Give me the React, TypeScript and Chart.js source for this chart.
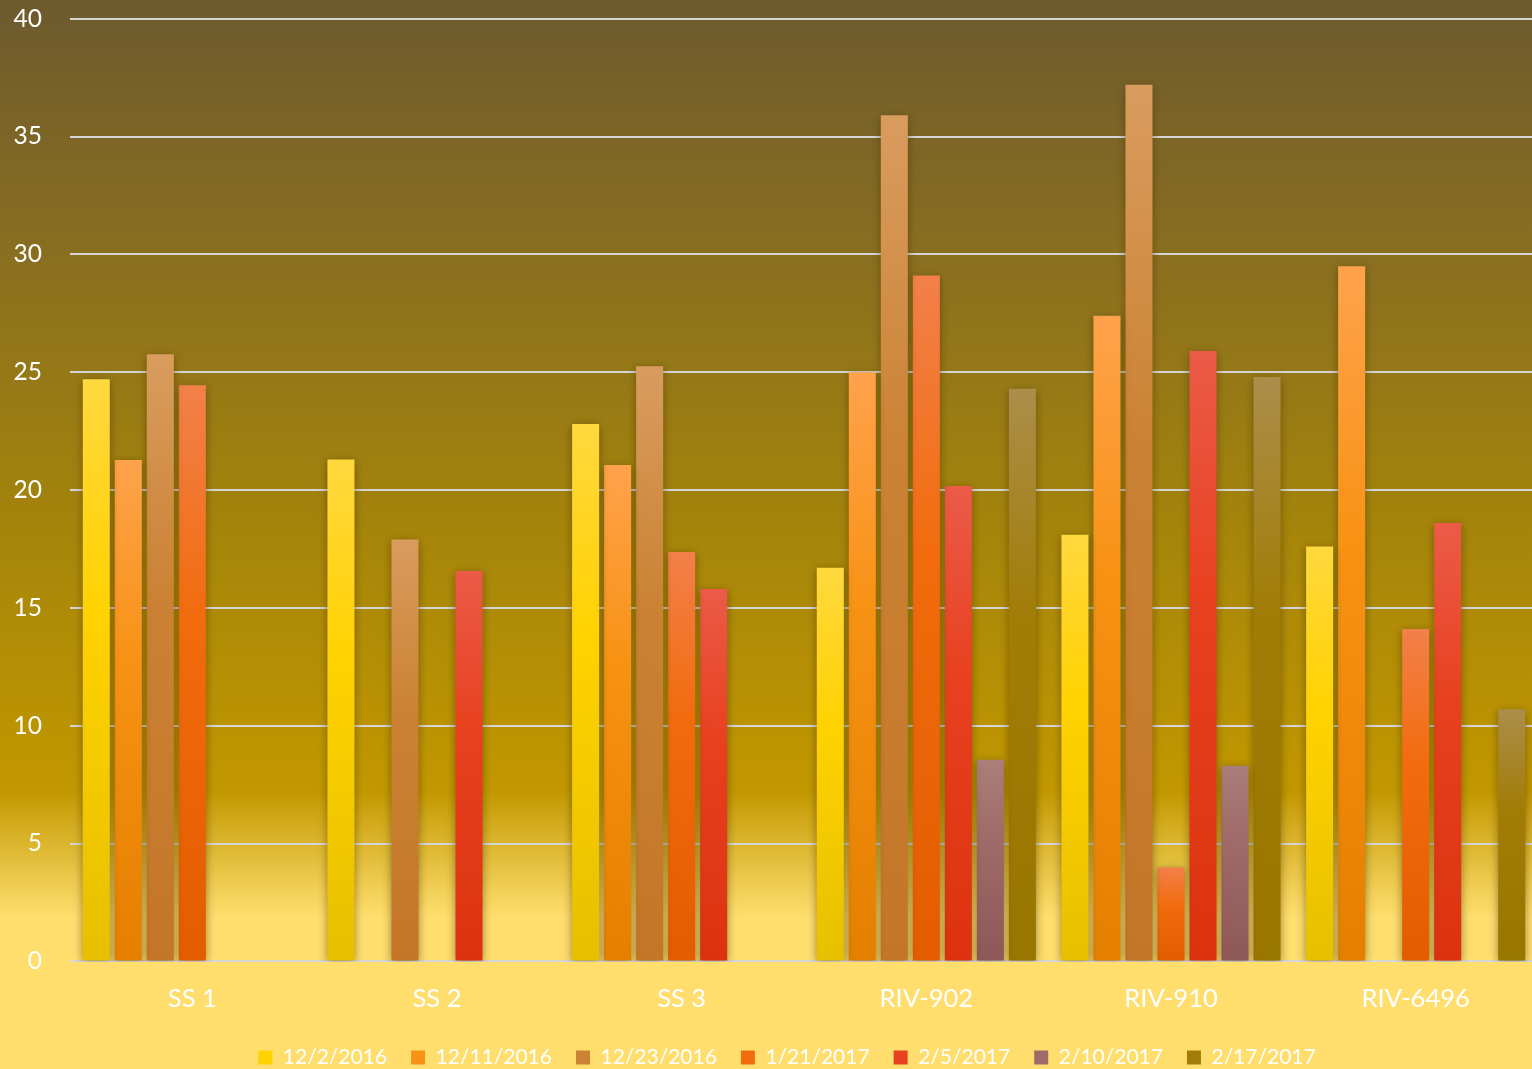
import React, { useEffect, useRef } from "react";
import { Chart, registerables } from "chart.js";

Chart.register(...registerables);

const categories = ["SS 1", "SS 2", "SS 3", "RIV-902", "RIV-910", "RIV-6496"];
const seriesNames = ["12/2/2016", "12/11/2016", "12/23/2016", "1/21/2017", "2/5/2017", "2/10/2017", "2/17/2017"];

const s1222016 = [24.7, 21.3, 22.8, 16.7, 18.1, 17.6];
const s12112016 = [21.27, null, 21.06, 25.0, 27.4, 29.5];
const s12232016 = [25.76, 17.9, 25.25, 35.9, 37.2, null];
const s1212017 = [24.45, null, 17.37, 29.1, 3.98, 14.1];
const s252017 = [null, 16.57, 15.8, 20.17, 25.9, 18.6];
const s2102017 = [null, null, null, 8.56, 8.3, null];
const s2172017 = [null, null, null, 24.3, 24.8, 10.7];

const seriesValues = [s1222016, s12112016, s12232016, s1212017, s252017, s2102017, s2172017];

const yTicks = [0, 5, 10, 15, 20, 25, 30, 35, 40];

const gradientStops: string[][] = [
  ["#ffd83e", "#ffd200", "#e6c000"],
  ["#ffa24c", "#f89214", "#e57f00"],
  ["#d99c5e", "#cb8234", "#c47628"],
  ["#f2804a", "#f26c0e", "#e35c00"],
  ["#eb5b48", "#e8411f", "#dc3210"],
  ["#aa7e7a", "#9f6a68", "#8e5858"],
  ["#ab8e4a", "#a27c06", "#997600"],
];

const FONT = "Lato, 'Open Sans', sans-serif";
const OFFSET_TOP = 24;
const CANVAS_H = 1104;

export default function App() {
  const ref = useRef<HTMLCanvasElement | null>(null);

  useEffect(() => {
    if (!ref.current) return;

    const bgPlugin = {
      id: "bg",
      beforeDraw(chart: any) {
        const { ctx, width, height } = chart;
        const g = ctx.createLinearGradient(0, OFFSET_TOP, 0, OFFSET_TOP + 1069);
        g.addColorStop(0, "#6d5a2e");
        g.addColorStop(0.25, "#8a701f");
        g.addColorStop(0.5, "#a6850a");
        g.addColorStop(0.74, "#c29800");
        g.addColorStop(0.858, "#ffde6e");
        g.addColorStop(1, "#ffde6e");
        ctx.save();
        ctx.fillStyle = g;
        ctx.fillRect(0, 0, width, height);
        ctx.restore();
      },
    };

    const legendShift = {
      id: "legendShift",
      afterLayout(chart: any) {
        if (chart.legend) {
          chart.legend.left += 12;
          chart.legend.right += 12;
        }
      },
    };

    const shadowPlugin = {
      id: "barShadow",
      beforeDatasetsDraw(chart: any) {
        const ctx = chart.ctx;
        ctx.save();
        ctx.shadowColor = "rgba(70, 50, 0, 0.55)";
        ctx.shadowBlur = 10;
        ctx.shadowOffsetX = 0;
        ctx.shadowOffsetY = 2;
      },
      afterDatasetsDraw(chart: any) {
        chart.ctx.restore();
      },
    };

    const datasets = seriesNames.map((name, i) => ({
      label: name,
      data: seriesValues[i],
      backgroundColor: (c: any) => {
        const chart = c.chart;
        const stops = gradientStops[i];
        if (!chart.chartArea || c.type !== "data" || c.parsed == null) return stops[1];
        const ys = chart.scales.y;
        const top = ys.getPixelForValue(c.parsed.y);
        const base = ys.getPixelForValue(0);
        if (!isFinite(top) || !isFinite(base) || base === top) return stops[1];
        const g = chart.ctx.createLinearGradient(0, top, 0, base);
        g.addColorStop(0, stops[0]);
        g.addColorStop(0.4, stops[1]);
        g.addColorStop(1, stops[2]);
        return g;
      },
      borderWidth: 0,
      categoryPercentage: 0.916,
      barPercentage: 0.844,
    }));

    const chart = new Chart(ref.current, {
      type: "bar",
      data: { labels: categories, datasets },
      plugins: [bgPlugin, legendShift, shadowPlugin],
      options: {
        animation: false,
        responsive: true,
        maintainAspectRatio: false,
        layout: { padding: { left: 12, right: 0, top: 7, bottom: 2 } },
        plugins: {
          tooltip: { enabled: false },
          legend: {
            position: "bottom",
            labels: {
              color: "#ffffff",
              font: { family: FONT, size: 21 },
              boxWidth: 14,
              boxHeight: 14,
              padding: 24,
              generateLabels: () =>
                seriesNames.map((n, i) => ({
                  text: n,
                  fillStyle: gradientStops[i][1],
                  strokeStyle: gradientStops[i][1],
                  lineWidth: 0,
                  hidden: false,
                  datasetIndex: i,
                  fontColor: "#ffffff",
                })),
            },
          },
        },
        scales: {
          x: {
            grid: { display: false, drawTicks: false },
            border: { display: false },
            afterFit: (scale: any) => {
              scale.height = scale.height - 13;
            },
            ticks: { color: "#ffffff", font: { family: FONT, size: 25.5 }, padding: 22 },
          },
          y: {
            min: 0,
            max: 40,
            afterFit: (scale: any) => {
              scale.width = 58;
            },
            afterBuildTicks: (axis: any) => {
              axis.ticks = yTicks.map((v) => ({ value: v }));
            },
            grid: { color: "#d6d6d6", lineWidth: 2, drawTicks: false },
            border: { display: false },
            ticks: { color: "#ffffff", font: { family: FONT, size: 24.5 }, padding: 28 },
          },
        },
      },
    });

    return () => chart.destroy();
  }, []);

  return (
    <div style={{ position: "absolute", left: 0, top: 0, width: 1532, height: 1069, overflow: "hidden" }}>
      <div style={{ position: "relative", top: -OFFSET_TOP, width: 1538, height: CANVAS_H }}>
        <canvas ref={ref} />
      </div>
    </div>
  );
}
